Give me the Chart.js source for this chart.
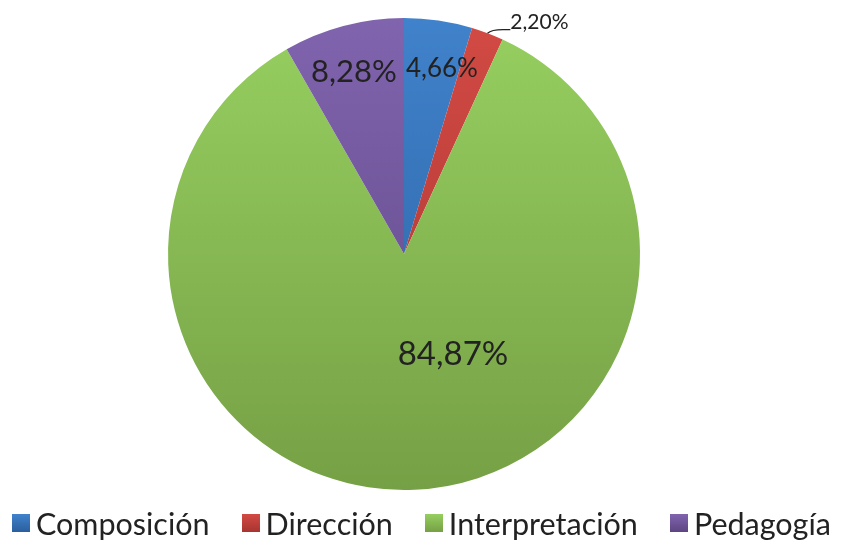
<!DOCTYPE html>
<html>
<head>
<meta charset="utf-8">
<script src="https://cdn.jsdelivr.net/npm/chart.js@4"></script>
<style>
  html, body { margin: 0; padding: 0; background: #fff; }
  #wrap { position: relative; width: 842px; height: 542px; }
  #legend { position: absolute; left: 12px; top: 505px; display: flex; align-items: center;
            font-family: Lato, sans-serif; font-size: 30.5px; color: #222; white-space: nowrap; }
  #legend .item { display: flex; align-items: center; margin-right: 32px; }
  #legend .box { width: 18px; height: 18px; margin-right: 6px; }
</style>
</head>
<body>
<div id="wrap">
  <canvas id="c" width="842" height="542"></canvas>
  <div id="legend"></div>
</div>
<script>
// data
const categories = ['Composición', 'Dirección', 'Interpretación', 'Pedagogía'];
const shares = [4.66, 2.20, 84.87, 8.28];
const valueLabels = ['4,66%', '2,20%', '84,87%', '8,28%'];

// styles: [top, bottom] colours of each slice's vertical gradient
const gradStops = [
  ['#4082cb', '#2a5f9e'],
  ['#d24a44', '#a83430'],
  ['#96cf60', '#76a045'],
  ['#8064ae', '#5d4583']
];
// label placement: angle from 12 o'clock (deg), radius fraction, font size
const labelPlace = [
  { ang: 11.6, rf: 0.80, size: 26 },
  { ang: 30.7, rf: 1.14, size: 21, outside: true },
  { ang: 154.1, rf: 0.475, size: 33 },
  { ang: 344.6, rf: 0.80, size: 31 }
];

function sliceFill(ctx) {
  const chart = ctx.chart;
  const area = chart.chartArea;
  if (!area) return gradStops[ctx.dataIndex][0];
  const g = chart.ctx.createLinearGradient(0, area.top, 0, area.bottom);
  g.addColorStop(0, gradStops[ctx.dataIndex][0]);
  g.addColorStop(1, gradStops[ctx.dataIndex][1]);
  return g;
}

const labelPlugin = {
  id: 'valueLabels',
  afterDatasetsDraw(chart) {
    const c = chart.ctx;
    const arcs = chart.getDatasetMeta(0).data;
    arcs.forEach((arc, i) => {
      const p = arc.getProps(['x', 'y', 'startAngle', 'endAngle', 'outerRadius'], true);
      const lp = labelPlace[i];
      const a = lp.ang * Math.PI / 180;
      const tx = p.x + Math.sin(a) * p.outerRadius * lp.rf;
      const ty = p.y - Math.cos(a) * p.outerRadius * lp.rf;
      c.save();
      c.fillStyle = '#222';
      c.font = lp.size + 'px Lato, sans-serif';
      c.textBaseline = 'middle';
      if (lp.outside) {
        const mid = (p.startAngle + p.endAngle) / 2;
        const ex = p.x + Math.cos(mid) * p.outerRadius;
        const ey = p.y + Math.sin(mid) * p.outerRadius;
        c.strokeStyle = '#222';
        c.lineWidth = 1.2;
        c.beginPath();
        c.moveTo(ex, ey);
        c.quadraticCurveTo(ex + 4, ey - 4, tx - 36, ty + 7);
        c.lineTo(tx - 31, ty + 7);
        c.stroke();
        c.textAlign = 'left';
        c.fillText(valueLabels[i], tx - 31, ty);
      } else {
        c.textAlign = 'center';
        c.fillText(valueLabels[i], tx, ty);
      }
      c.restore();
    });
  }
};

const chart = new Chart(document.getElementById('c'), {
  type: 'pie',
  data: {
    labels: categories,
    datasets: [{
      data: shares,
      backgroundColor: sliceFill,
      borderWidth: 0
    }]
  },
  options: {
    responsive: false,
    animation: false,
    layout: { padding: { top: 18, bottom: 52, left: 0, right: 34 } },
    plugins: { legend: { display: false }, tooltip: { enabled: false } }
  },
  plugins: [labelPlugin]
});

const legend = document.getElementById('legend');
categories.forEach((name, i) => {
  const item = document.createElement('div');
  item.className = 'item';
  const box = document.createElement('span');
  box.className = 'box';
  box.style.background = 'linear-gradient(' + gradStops[i][0] + ',' + gradStops[i][1] + ')';
  const txt = document.createElement('span');
  txt.textContent = name;
  item.appendChild(box);
  item.appendChild(txt);
  legend.appendChild(item);
});
</script>
</body>
</html>
